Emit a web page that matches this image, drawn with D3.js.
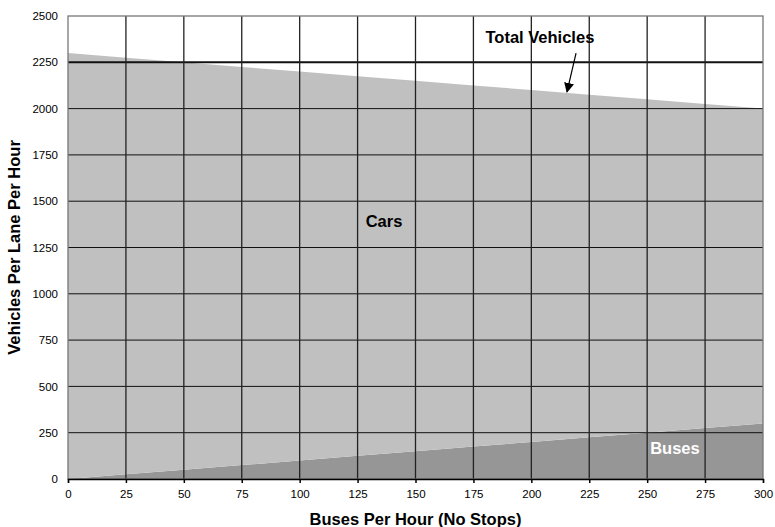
<!DOCTYPE html>
<html>
<head>
<meta charset="utf-8">
<script src="https://cdnjs.cloudflare.com/ajax/libs/d3/7.8.5/d3.min.js"></script>
<style>
  body { margin: 0; background: #fff; }
  text { font-family: "Liberation Sans", Arial, sans-serif; }
</style>
</head>
<body>
<script>
var busesPerHour = [0, 25, 50, 75, 100, 125, 150, 175, 200, 225, 250, 275, 300];
var buses = [0, 25, 50, 75, 100, 125, 150, 175, 200, 225, 250, 275, 300];
var cars = [2300, 2250, 2200, 2150, 2100, 2050, 2000, 1950, 1900, 1850, 1800, 1750, 1700];
var yTicks = [0, 250, 500, 750, 1000, 1250, 1500, 1750, 2000, 2250, 2500];
var capacityLine = 2250;

var width = 775, height = 527;
var margin = { left: 68, right: 12, top: 16, bottom: 48 };

var svg = d3.select("body").append("svg")
    .attr("width", width)
    .attr("height", height);

var x = d3.scaleLinear().domain([0, 300]).range([margin.left, width - margin.right]);
var y = d3.scaleLinear().domain([0, 2500]).range([height - margin.bottom, margin.top]);

var rows = busesPerHour.map(function (b, i) {
    return { b: b, buses: buses[i], cars: cars[i] };
});
var stacked = d3.stack().keys(["buses", "cars"])(rows);
var fills = { buses: "#969696", cars: "#c0c0c0" };

var area = d3.area()
    .x(function (d) { return x(d.data.b); })
    .y0(function (d) { return y(d[0]); })
    .y1(function (d) { return y(d[1]); });

svg.selectAll(".layer")
    .data(stacked)
    .enter().append("path")
    .attr("class", "layer")
    .attr("fill", function (d) { return fills[d.key]; })
    .attr("d", area);

// grid
svg.selectAll(".hgrid")
    .data(yTicks.filter(function (t) { return t > 0 && t < 2500; }))
    .enter().append("line")
    .attr("x1", x(0)).attr("x2", x(300))
    .attr("y1", function (d) { return y(d); })
    .attr("y2", function (d) { return y(d); })
    .style("stroke", "#111")
    .style("stroke-width", function (d) { return d == capacityLine ? 2 : 1; });

svg.selectAll(".vgrid")
    .data(busesPerHour.filter(function (t) { return t > 0 && t < 300; }))
    .enter().append("line")
    .attr("x1", function (d) { return x(d); })
    .attr("x2", function (d) { return x(d); })
    .attr("y1", y(2500)).attr("y2", y(0))
    .style("stroke", "#222")
    .style("stroke-width", 1.3);

// frame
svg.append("rect")
    .attr("x", x(0)).attr("y", y(2500))
    .attr("width", x(300) - x(0)).attr("height", y(0) - y(2500))
    .attr("fill", "none")
    .style("stroke", "#777")
    .style("stroke-width", 1.3);

// axes
var xAxis = svg.append("g")
    .attr("transform", "translate(0," + y(0) + ")")
    .call(d3.axisBottom(x).tickValues(busesPerHour).tickFormat(d3.format("d")).tickSize(4).tickPadding(7));
xAxis.select(".domain").style("stroke", "#000").style("stroke-width", 1.3);
xAxis.selectAll(".tick line").style("stroke", "#000").style("stroke-width", 1.5);

var yAxis = svg.append("g")
    .attr("transform", "translate(" + x(0) + ",0)")
    .call(d3.axisLeft(y).tickValues(yTicks).tickFormat(d3.format("d")).tickSize(0).tickPadding(10));
yAxis.select(".domain").remove();

svg.selectAll(".tick text")
    .style("font-family", "'Liberation Sans', Arial, sans-serif")
    .style("font-size", "11.5px")
    .attr("fill", "#000");

// titles
svg.append("text")
    .attr("x", (x(0) + x(300)) / 2)
    .attr("y", 525)
    .attr("text-anchor", "middle")
    .style("font-size", "16.5px")
    .style("font-weight", "bold")
    .text("Buses Per Hour (No Stops)");

svg.append("text")
    .attr("transform", "translate(20," + ((y(0) + y(2500)) / 2) + ") rotate(-90)")
    .attr("text-anchor", "middle")
    .style("font-size", "16.5px")
    .style("font-weight", "bold")
    .text("Vehicles Per Lane Per Hour");

// labels
svg.append("text")
    .attr("x", x(136.4)).attr("y", y(1361))
    .attr("text-anchor", "middle")
    .style("font-size", "16.5px")
    .style("font-weight", "bold")
    .text("Cars");

svg.append("text")
    .attr("x", x(262)).attr("y", y(135))
    .attr("text-anchor", "middle")
    .attr("fill", "#fff")
    .style("font-size", "16.5px")
    .style("font-weight", "bold")
    .text("Buses");

svg.append("text")
    .attr("x", x(203.7)).attr("y", y(2354))
    .attr("text-anchor", "middle")
    .style("font-size", "16.5px")
    .style("font-weight", "bold")
    .text("Total Vehicles");

svg.append("defs").append("marker")
    .attr("id", "arrow")
    .attr("viewBox", "0 0 10 10")
    .attr("refX", 9).attr("refY", 5)
    .attr("markerWidth", 10).attr("markerHeight", 10)
    .attr("markerUnits", "userSpaceOnUse")
    .attr("orient", "auto")
    .append("path")
    .attr("d", "M0,0 L10,5 L0,10 z")
    .attr("fill", "#000");

svg.append("line")
    .attr("x1", x(219.3)).attr("y1", y(2300))
    .attr("x2", x(215.4)).attr("y2", y(2090))
    .style("stroke", "#000")
    .style("stroke-width", 1.2)
    .attr("marker-end", "url(#arrow)");
</script>
</body>
</html>
